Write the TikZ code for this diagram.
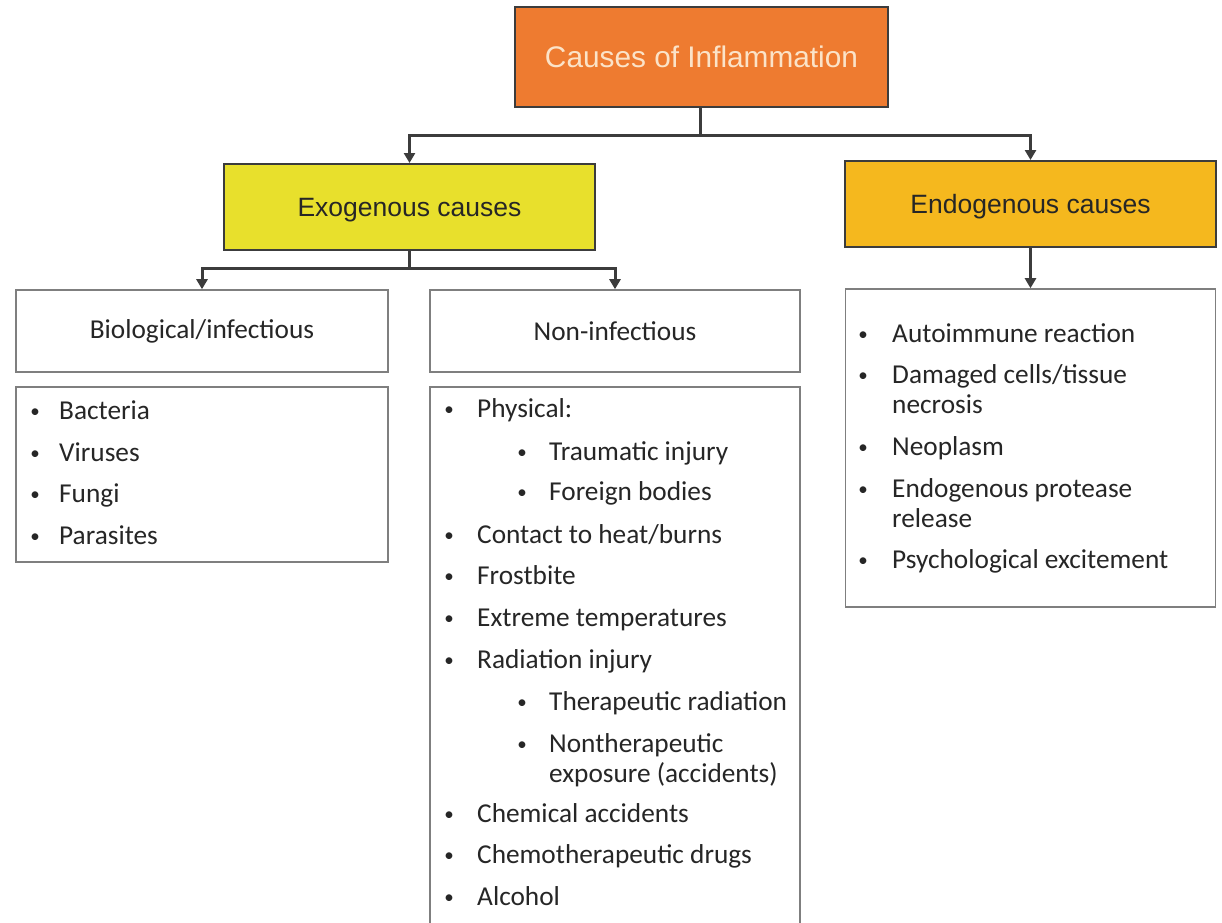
\documentclass[tikz,border=0pt]{standalone}
\usepackage{fontspec}
\setmainfont{Carlito}
\newfontfamily\arialf{Liberation Sans}
\usetikzlibrary{arrows.meta}
\definecolor{orangeF}{HTML}{EE7B30}
\definecolor{yellowF}{HTML}{E8E02C}
\definecolor{goldF}{HTML}{F5B81E}
\definecolor{titleT}{HTML}{FBE3C8}
\definecolor{darkL}{HTML}{3C3C3C}
\definecolor{grayL}{HTML}{7F7F7F}
\definecolor{txt}{HTML}{262626}
\begin{document}
\begin{tikzpicture}[x=1pt,y=-1pt,
  cbox/.style={draw=darkL,line width=2pt,inner sep=0pt,text depth=0pt,
    font=\arialf\fontsize{26.5}{30}\selectfont,text=txt},
  wbox/.style={draw=grayL,line width=1.6pt,fill=white,inner sep=0pt,
    minimum width=372pt,minimum height=82pt,
    font=\fontsize{27.3}{30}\selectfont,text=txt},
  lbox/.style={draw=grayL,line width=1.6pt,fill=white},
  itm/.style={anchor=base west,inner sep=0pt,font=\fontsize{27.3}{30}\selectfont,text=txt},
  bul/.style={anchor=base,inner sep=0pt,yshift=1.5pt,font=\fontsize{19}{20}\selectfont,text=txt},
  arrowline/.style={draw=darkL,line width=3pt,-{Triangle[width=11pt,length=10pt]}},
  stemline/.style={draw=darkL,line width=3pt}
]
\useasboundingbox (0,0) rectangle (1222,922);
\fill[white] (0,0) rectangle (1222,922);

% top box
\node[cbox,fill=orangeF,text=titleT,minimum width=373pt,minimum height=100pt,
  font=\arialf\fontsize{29.8}{32}\selectfont] (top) at (701.5,57) {Causes of Inflammation};

% second level
\node[cbox,fill=yellowF,minimum width=371pt,minimum height=86pt] (exo) at (409.5,207) {Exogenous causes};
\node[cbox,fill=goldF,minimum width=371pt,minimum height=86pt] (endo) at (1030.5,204) {Endogenous causes};

% third level headers
\node[wbox] (bio) at (202,331) {Biological/infectious};
\node[wbox,minimum width=370pt] (non) at (615,331) {Non-infectious};

% list boxes
\node[lbox,inner sep=0pt,minimum width=372pt,minimum height=175pt] (biolist) at (202,474.5) {};
\node[lbox,inner sep=0pt,minimum width=370pt,minimum height=318pt] (endolist) at (1030.5,448) {};
\coordinate (nlA) at (430,923);
\coordinate (nlB) at (430,387);
\coordinate (nlC) at (800,387);
\coordinate (nlD) at (800,923);
\draw[grayL,line width=1.6pt] (nlA) -- (nlB) -- (nlC) -- (nlD);

% connectors
\coordinate (j1) at (700.5,135.5);
\draw[stemline] (top.south -| j1) -- (j1);
\draw[arrowline] (j1) -| (exo.north);
\draw[arrowline] (j1) -| (endo.north);
\coordinate (j2) at (409.5,268.5);
\draw[stemline] (exo.south -| j2) -- (j2);
\draw[arrowline] (j2) -| (bio.north);
\draw[arrowline] (j2) -| (non.north);
\draw[arrowline] (endo.south) -- (endolist.north);

% biological list
\node[bul] (b1b) at (35,419) {•}; \node[itm] (b1) at (59,419) {Bacteria};
\node[bul] (b2b) at (35,461) {•}; \node[itm] (b2) at (59,461) {Viruses};
\node[bul] (b3b) at (35,502) {•}; \node[itm] (b3) at (59,502) {Fungi};
\node[bul] (b4b) at (35,544) {•}; \node[itm] (b4) at (59,544) {Parasites};

% non-infectious list
\node[bul] (n1b) at (449,417) {•}; \node[itm] (n1) at (477,417) {Physical:};
\node[bul] (n2b) at (522,460) {•}; \node[itm] (n2) at (549,460) {Traumatic injury};
\node[bul] (n3b) at (522,500) {•}; \node[itm] (n3) at (549,500) {Foreign bodies};
\node[bul] (n4b) at (449,543) {•}; \node[itm] (n4) at (477,543) {Contact to heat/burns};
\node[bul] (n5b) at (449,584) {•}; \node[itm] (n5) at (477,584) {Frostbite};
\node[bul] (n6b) at (449,626) {•}; \node[itm] (n6) at (477,626) {Extreme temperatures};
\node[bul] (n7b) at (449,668) {•}; \node[itm] (n7) at (477,668) {Radiation injury};
\node[bul] (n8b) at (522,710) {•}; \node[itm] (n8) at (549,710) {Therapeutic radiation};
\node[bul] (n9b) at (522,752) {•}; \node[itm] (n9) at (549,752) {Nontherapeutic};
\node[itm] (n9c) at (549,782) {exposure (accidents)};
\node[bul] (n10b) at (449,822) {•}; \node[itm] (n10) at (477,822) {Chemical accidents};
\node[bul] (n11b) at (449,863) {•}; \node[itm] (n11) at (477,863) {Chemotherapeutic drugs};
\node[bul] (n12b) at (449,905) {•}; \node[itm] (n12) at (477,905) {Alcohol};

% endogenous list
\node[bul] (e1b) at (863,342) {•}; \node[itm] (e1) at (892,342) {Autoimmune reaction};
\node[bul] (e2b) at (863,383) {•}; \node[itm] (e2) at (892,383) {Damaged cells/tissue};
\node[itm] (e2c) at (892,413) {necrosis};
\node[bul] (e3b) at (863,455) {•}; \node[itm] (e3) at (892,455) {Neoplasm};
\node[bul] (e4b) at (863,497) {•}; \node[itm] (e4) at (892,497) {Endogenous protease};
\node[itm] (e4c) at (892,527) {release};
\node[bul] (e5b) at (863,568) {•}; \node[itm] (e5) at (892,568) {Psychological excitement};
\end{tikzpicture}
\end{document}
